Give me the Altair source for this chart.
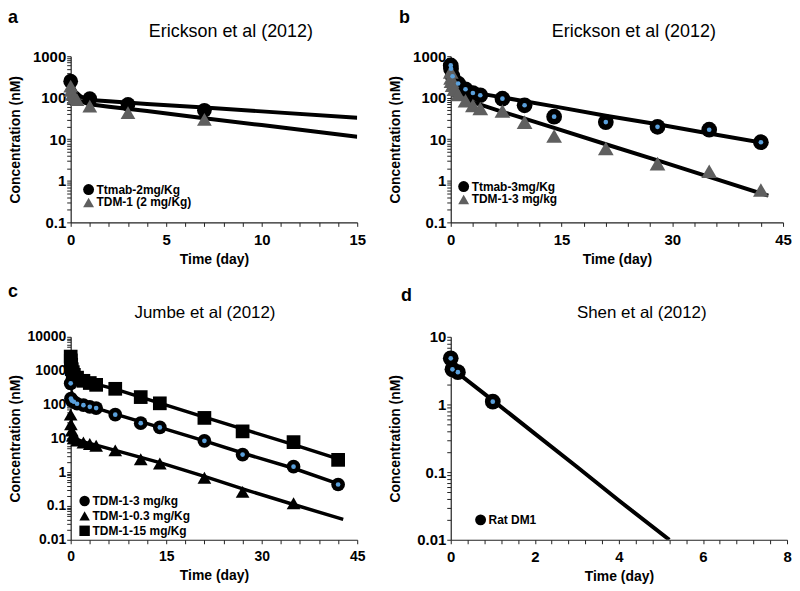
import altair as alt
import pandas as pd

FONT = "Liberation Sans"
BLUE = "#5aa0dc"
GRAY = "#5f5f5f"

# ---------------- Panel a: Erickson et al (2012), 2 mg/kg ----------------
a_ttmab_t = [0, 1, 3, 7]
a_ttmab_c = [250, 95, 69, 50]
a_tdm_t = [0, 0.02, 0.08, 0.17, 0.33, 1, 3, 7]
a_tdm_c = [190, 150, 120, 100, 90, 63, 44, 30]
a_fit_t = [0, 0.1, 0.25, 0.5, 0.75, 1, 2, 4, 7, 10, 15]
a_fit_ttmab = [250, 190, 140, 110, 95, 88, 82, 71, 58, 47, 33]
a_fit_tdm = [200, 150, 110, 85, 75, 70, 61, 48, 32, 22, 11.5]
a_series = ["Ttmab-2mg/Kg", "TDM-1 (2 mg/Kg)"]

# ---------------- Panel b: Erickson et al (2012), 3 mg/kg ----------------
b_ttmab_t = [0, 0.04, 0.25, 1, 2, 3, 4, 7, 10, 14, 21, 28, 35, 42]
b_ttmab_c = [600, 500, 330, 220, 160, 130, 115, 95, 66, 35, 26, 20, 17, 8.5]
b_tdm_t = [0, 0.04, 0.1, 0.25, 0.5, 1, 2, 3, 4, 7, 10, 14, 21, 28, 35, 42]
b_tdm_c = [420, 300, 250, 200, 160, 120, 85, 65, 55, 48, 26, 12, 6, 2.6, 1.7, 0.6]
b_fit1_t = [0, 0.25, 0.67, 1.8, 4, 7, 14, 21, 28, 35, 42.5]
b_fit1_c = [620, 420, 290, 180, 126, 102, 62, 37, 23, 13.8, 8.1]
b_fit2_t = [0, 0.1, 0.25, 0.5, 1, 2, 4, 7, 10, 14, 21, 28, 35, 43]
b_fit2_c = [380, 220, 150, 107, 100, 88, 68, 46, 31.5, 18.8, 7.6, 3.1, 1.24, 0.44]
b_series = ["Ttmab-3mg/Kg", "TDM-1-3 mg/kg"]

# ---------------- Panel c: Jumbe et al (2012) ----------------
c_3_t = [0, 0.04, 0.17, 0.5, 1, 2, 3, 4, 7, 11, 14, 21, 27, 35, 42]
c_3_c = [420, 150, 130, 120, 105, 95, 85, 78, 50, 28, 21, 8.4, 3.3, 1.45, 0.43]
c_03_t = [0, 0.04, 0.17, 0.33, 0.5, 1, 2, 3, 4, 7, 11, 14, 21, 27, 35]
c_03_c = [50, 26, 17, 12, 10, 8.5, 7.5, 6.8, 6.0, 4.4, 2.4, 1.8, 0.68, 0.26, 0.12]
c_15_t = [0, 0.02, 0.08, 0.17, 0.33, 0.5, 1, 2, 3, 4, 7, 11, 14, 21, 27, 35, 42]
c_15_c = [2600, 2000, 1500, 1100, 900, 750, 620, 500, 430, 380, 290, 165, 108, 40, 16, 7.7, 2.3]
c_fit15_t = [0, 0.1, 0.25, 0.5, 1, 2, 3, 4, 7, 14, 21, 28, 35, 42.5]
c_fit15_c = [2600, 1700, 1200, 900, 700, 540, 450, 400, 285, 110, 42, 16.5, 6.5, 2.3]
c_fit3_t = [0, 0.1, 0.25, 0.5, 1, 2, 4, 7, 14, 21, 28, 35, 42.5]
c_fit3_c = [450, 250, 170, 140, 120, 100, 78, 52, 21, 8.4, 3.2, 1.3, 0.42]
c_fit03_t = [0, 0.1, 0.25, 0.5, 1, 2, 4, 7, 14, 21, 28, 35, 42.8]
c_fit03_c = [50, 25, 15, 11, 9.2, 7.8, 6.3, 4.4, 1.9, 0.75, 0.28, 0.11, 0.04]
c_series = ["TDM-1-3 mg/kg", "TDM-1-0.3 mg/Kg", "TDM-1-15 mg/Kg"]

# ---------------- Panel d: Shen et al (2012) ----------------
d_t = [0, 0.04, 0.17, 1]
d_c = [4.8, 3.3, 3.0, 1.1]
d_fit_t = [0, 1, 2, 3, 4, 5.2]
d_fit_c = [3.5, 1.15, 0.37, 0.12, 0.038, 0.01]
d_series = ["Rat DM1"]


def pts(t, c, s):
    return pd.DataFrame({"t": t, "c": c, "series": s})


def fit(t, c, name):
    return pd.DataFrame({"t": t, "c": c, "fit": name})


def log_ticks(lo_exp, hi_exp):
    vals = []
    for e in range(lo_exp, hi_exp):
        for m in range(1, 10):
            vals.append(round(m * 10 ** e, 6))
    vals.append(10 ** hi_exp)
    return vals


def panel(points, fits, series, shapes, colors, blue_series, xdom, xvals, xlab_step,
          ydom, yvals, width, height, title, title_dx, title_size, letter, letter_xy,
          legend_xy, row_pad, tick_fs, pt_size, line_w, leg_sym):
    xaxis = alt.Axis(values=xvals, title="Time (day)", titleFontSize=14, grid=False,
                     labelFontSize=tick_fs, tickSize=4, titlePadding=5, labelPadding=6,
                     labelExpr=f"abs(datum.value/{xlab_step} - round(datum.value/{xlab_step})) < 0.001 ? datum.label : ''",
                     format="~g")
    yaxis = alt.Axis(values=yvals, title="Concentration (nM)", titleFontSize=14, grid=False,
                     labelFontSize=tick_fs, tickSize=4, labelPadding=1, titleX=-48,
                     titleY=height / 2, format="~g",
                     labelExpr="abs(log(datum.value)/LN10 - round(log(datum.value)/LN10)) < 0.0001 ? datum.label : ''")
    X = alt.X("t:Q", scale=alt.Scale(domain=xdom, nice=False, zero=False), axis=xaxis)
    Y = alt.Y("c:Q", scale=alt.Scale(type="log", domain=ydom, nice=False), axis=yaxis)

    lines = alt.Chart(fits).mark_line(color="black", strokeWidth=line_w, clip=True).encode(
        x=X, y=Y, detail="fit:N", order="t:Q")

    leg = alt.Legend(orient="none", legendX=legend_xy[0], legendY=legend_xy[1], title=None,
                     labelFont=FONT, labelFontSize=12, labelFontWeight="bold",
                     labelColor="black", symbolSize=leg_sym, rowPadding=row_pad,
                     labelOffset=2, symbolStrokeWidth=0, padding=0)
    points_l = alt.Chart(points).mark_point(filled=True, opacity=1, size=pt_size).encode(
        x=X, y=Y,
        shape=alt.Shape("series:N", scale=alt.Scale(domain=series, range=shapes), legend=leg),
        color=alt.Color("series:N", scale=alt.Scale(domain=series, range=colors), legend=leg),
    )
    layers = [lines, points_l]
    if blue_series:
        blue = alt.Chart(points).transform_filter(
            alt.FieldOneOfPredicate(field="series", oneOf=blue_series)
        ).mark_point(filled=True, opacity=1, size=22, shape="circle", color=BLUE).encode(x=X, y=Y)
        layers.append(blue)
    lab = alt.Chart(pd.DataFrame({"lab": [letter]})).mark_text(
        align="left", baseline="top", font=FONT, fontSize=18, fontWeight="bold",
        color="black").encode(text="lab:N", x=alt.value(letter_xy[0]), y=alt.value(letter_xy[1]))
    ttl = alt.Chart(pd.DataFrame({"ttl": [title]})).mark_text(
        align="center", baseline="bottom", font=FONT, fontSize=title_size, fontWeight="normal",
        color="black").encode(text="ttl:N", x=alt.value(width / 2 + title_dx), y=alt.value(-15))
    layers += [lab, ttl]
    return alt.layer(*layers).properties(width=width, height=height).resolve_scale(
        color="independent", shape="independent")


pa = panel(
    pd.concat([pts(a_ttmab_t, a_ttmab_c, a_series[0]), pts(a_tdm_t, a_tdm_c, a_series[1])]),
    pd.concat([fit(a_fit_t, a_fit_ttmab, "ttmab"), fit(a_fit_t, a_fit_tdm, "tdm")]),
    a_series, ["circle", "triangle-up"], ["black", GRAY], None,
    [0, 15], list(range(0, 16)), 5, [0.1, 1000], log_ticks(-1, 3),
    288, 167, "Erickson et al (2012)", 17, 18, "a", (-63, -47), (12, 128), 1, 15, 220, 4, 120)

pb = panel(
    pd.concat([pts(b_ttmab_t, b_ttmab_c, b_series[0]), pts(b_tdm_t, b_tdm_c, b_series[1])]),
    pd.concat([fit(b_fit1_t, b_fit1_c, "ttmab"), fit(b_fit2_t, b_fit2_c, "tdm")]),
    b_series, ["circle", "triangle-up"], ["black", GRAY], [b_series[0]],
    [0, 45], list(range(0, 46, 3)), 15, [0.1, 1000], log_ticks(-1, 3),
    334, 167, "Erickson et al (2012)", 17, 18, "b", (-52, -47), (7, 125), 1, 15, 250, 4, 120)

pc = panel(
    pd.concat([pts(c_3_t, c_3_c, c_series[0]), pts(c_03_t, c_03_c, c_series[1]),
               pts(c_15_t, c_15_c, c_series[2])]),
    pd.concat([fit(c_fit15_t, c_fit15_c, "15"), fit(c_fit3_t, c_fit3_c, "3"),
               fit(c_fit03_t, c_fit03_c, "0.3")]),
    c_series, ["circle", "triangle-up", "square"], ["black", "black", "black"], [c_series[0]],
    [0, 45], list(range(0, 46, 3)), 15, [0.01, 10000], log_ticks(-2, 4),
    288, 204, "Jumbe et al (2012)", -9, 17, "c", (-63, -54), (8, 159), 3, 14, 190, 3.5, 110)

pd_ = panel(
    pts(d_t, d_c, d_series[0]),
    fit(d_fit_t, d_fit_c, "dm1"),
    d_series, ["circle"], ["black"], [d_series[0]],
    [0, 8], [round(0.4 * i, 2) for i in range(0, 21)], 2, [0.01, 10], log_ticks(-2, 1),
    338, 204, "Shen et al (2012)", 23, 17, "d", (-50, -50), (24, 178), 0, 15, 250, 4, 120)

chart = alt.concat(
    pa, pb, pc, pd_, columns=2, spacing={"row": 17, "column": 23}, align="each",
    padding={"left": 0, "top": 0, "right": 0, "bottom": 0},
).resolve_scale(color="independent", shape="independent").resolve_legend(
    color="independent", shape="independent"
).configure_view(stroke=None).configure_axis(
    domainColor="#222", tickColor="#222", grid=False, labelColor="black", titleColor="black",
    labelFont=FONT, titleFont=FONT, labelFontWeight="bold", titleFontWeight="bold",
    domainWidth=1.2, tickWidth=1, labelFlush=False, labelOverlap=False,
)

chart.save("out.html", embed_options={"renderer": "svg", "actions": False})
